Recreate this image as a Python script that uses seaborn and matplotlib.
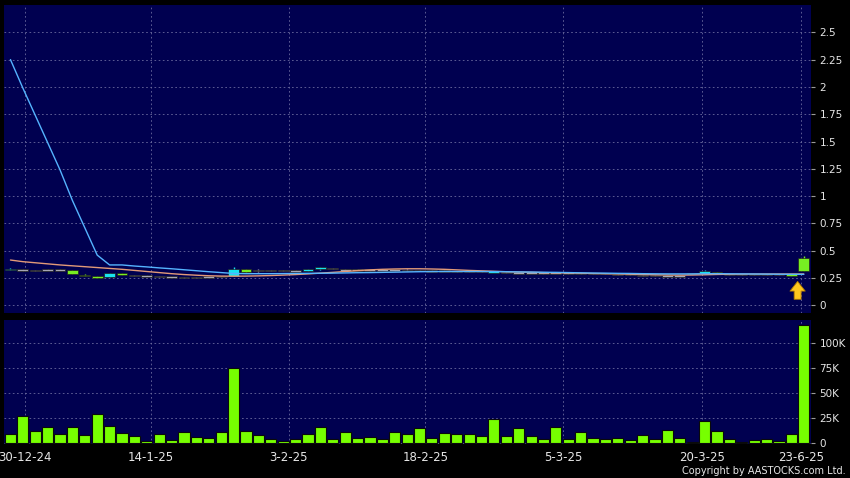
import matplotlib
matplotlib.use('Agg')
import matplotlib.pyplot as plt
import seaborn as sns
import numpy as np

# ---- data (65 trading days) ----
volume_k = [9.3, 27.3, 12.3, 16, 9, 16.7, 8, 29.7, 17, 10.3,
            7.7, 2.7, 9, 3, 11.3, 6.3, 5.7, 11, 75.3, 12.3,
            8, 4.7, 2, 4.3, 9, 16, 4.7, 11.3, 5, 6.3,
            4.7, 11.7, 9, 15.3, 5.7, 10.7, 9, 9, 7, 24,
            7.7, 15, 7.3, 4, 16.7, 4, 11.7, 5.7, 4.7, 5.3,
            3.7, 8, 4, 13.3, 5.7, 1.3, 22.7, 12.3, 4.7, 1.3,
            3.3, 4.3, 2.3, 9, 118.3]

opens = [0.335, 0.325, 0.32, 0.325, 0.325, 0.287, 0.275, 0.253, 0.295, 0.277,
         0.272, 0.27, 0.262, 0.26, 0.258, 0.258, 0.26, 0.262, 0.332, 0.302,
         0.317, 0.317, 0.32, 0.315, 0.332, 0.348, 0.338, 0.323, 0.325, 0.323,
         0.325, 0.323, 0.32, 0.318, 0.315, 0.315, 0.312, 0.312, 0.31, 0.31,
         0.298, 0.297, 0.296, 0.295, 0.296, 0.295, 0.294, 0.293, 0.292, 0.284,
         0.28, 0.275, 0.272, 0.27, 0.268, 0.29, 0.317, 0.287, 0.285, 0.283,
         0.282, 0.28, 0.28, 0.268, 0.31]
closes = [0.33, 0.325, 0.32, 0.325, 0.325, 0.32, 0.287, 0.271, 0.258, 0.293,
          0.272, 0.27, 0.262, 0.26, 0.258, 0.258, 0.26, 0.262, 0.268, 0.332,
          0.317, 0.317, 0.32, 0.315, 0.314, 0.33, 0.338, 0.323, 0.325, 0.323,
          0.325, 0.323, 0.32, 0.318, 0.315, 0.315, 0.312, 0.312, 0.31, 0.305,
          0.298, 0.297, 0.296, 0.295, 0.296, 0.295, 0.294, 0.293, 0.292, 0.284,
          0.28, 0.275, 0.272, 0.27, 0.268, 0.29, 0.30, 0.305, 0.285, 0.283,
          0.282, 0.28, 0.28, 0.287, 0.43]
highs = [0.34, 0.335, 0.325, 0.335, 0.33, 0.322, 0.29, 0.273, 0.297, 0.295,
         0.276, 0.274, 0.266, 0.264, 0.262, 0.262, 0.264, 0.266, 0.355, 0.334,
         0.33, 0.325, 0.326, 0.32, 0.336, 0.352, 0.342, 0.33, 0.33, 0.328,
         0.33, 0.328, 0.33, 0.322, 0.32, 0.32, 0.316, 0.316, 0.314, 0.318,
         0.302, 0.3, 0.3, 0.3, 0.3, 0.298, 0.298, 0.297, 0.296, 0.288,
         0.284, 0.278, 0.276, 0.274, 0.272, 0.294, 0.322, 0.308, 0.288, 0.287,
         0.286, 0.284, 0.284, 0.29, 0.45]
lows = [0.325, 0.315, 0.315, 0.32, 0.32, 0.285, 0.27, 0.248, 0.256, 0.275,
        0.268, 0.265, 0.258, 0.256, 0.255, 0.255, 0.256, 0.258, 0.266, 0.30,
        0.305, 0.31, 0.315, 0.31, 0.312, 0.328, 0.334, 0.318, 0.32, 0.318,
        0.32, 0.318, 0.31, 0.314, 0.31, 0.31, 0.308, 0.308, 0.306, 0.303,
        0.294, 0.293, 0.292, 0.291, 0.292, 0.291, 0.29, 0.289, 0.288, 0.28,
        0.276, 0.272, 0.268, 0.266, 0.264, 0.286, 0.298, 0.285, 0.282, 0.28,
        0.278, 0.276, 0.276, 0.266, 0.31]

ma_fast = [2.25, 1.99, 1.74, 1.49, 1.24, 0.96, 0.71, 0.46, 0.37, 0.37,
           0.36, 0.352, 0.343, 0.335, 0.326, 0.317, 0.308, 0.30, 0.292, 0.29,
           0.29, 0.29, 0.291, 0.292, 0.293, 0.294, 0.295, 0.297, 0.299, 0.30,
           0.302, 0.304, 0.306, 0.308, 0.309, 0.31, 0.31, 0.31, 0.31, 0.309,
           0.308, 0.306, 0.305, 0.303, 0.302, 0.30, 0.298, 0.296, 0.295, 0.293,
           0.292, 0.29, 0.289, 0.288, 0.288, 0.288, 0.29, 0.29, 0.289, 0.288,
           0.287, 0.286, 0.285, 0.284, 0.284]
ma_slow = [0.415, 0.40, 0.39, 0.38, 0.37, 0.362, 0.354, 0.346, 0.338, 0.33,
           0.32, 0.31, 0.30, 0.29, 0.282, 0.276, 0.271, 0.268, 0.267, 0.268,
           0.27, 0.273, 0.277, 0.282, 0.288, 0.295, 0.302, 0.31, 0.318, 0.325,
           0.33, 0.333, 0.335, 0.335, 0.333, 0.33, 0.325, 0.32, 0.316, 0.312,
           0.308, 0.305, 0.303, 0.30, 0.298, 0.296, 0.294, 0.292, 0.29, 0.288,
           0.285, 0.282, 0.28, 0.278, 0.277, 0.278, 0.28, 0.283, 0.285, 0.286,
           0.287, 0.287, 0.287, 0.287, 0.287]

date_labels = ['30-12-24', '14-1-25', '3-2-25', '18-2-25', '5-3-25', '20-3-25', '23-6-25']
date_pos = [1.19, 11.31, 22.44, 33.47, 44.6, 55.76, 63.75]
price_ticks = [0, 0.25, 0.5, 0.75, 1, 1.25, 1.5, 1.75, 2, 2.25, 2.5]
price_labels = ['0', '0.25', '0.5', '0.75', '1', '1.25', '1.5', '1.75', '2', '2.25', '2.5']
vol_ticks = [0, 25000, 50000, 75000, 100000]
vol_labels = ['0', '25K', '50K', '75K', '100K']

idx = np.arange(len(volume_k))
volume = np.array(volume_k) * 1000
opens, closes = np.array(opens), np.array(closes)

BG = '#000050'
GRID = '#6a6a9e'
TXT = '#e6e6e6'
UP = '#77ee22'
DOWN = '#19e3f0'
FLAT = '#a6a6b4'

sns.set_style('dark')
fig = plt.figure(figsize=(8.5, 4.78), dpi=100, facecolor='black')
ax_p = fig.add_axes([4 / 850, 1 - 313 / 478, 807 / 850, 308 / 478])
ax_v = fig.add_axes([4 / 850, 1 - 444 / 478, 807 / 850, 124 / 478])

for ax in (ax_p, ax_v):
    ax.set_facecolor(BG)
    for s in ax.spines.values():
        s.set_visible(False)

# ---- price panel ----
colors = [UP if c > o else DOWN if c < o else FLAT for o, c in zip(opens, closes)]
ax_p.vlines(idx, lows, highs, colors=colors, lw=1, zorder=2)
body_h = np.maximum(np.abs(closes - opens), 0.012)
ax_p.bar(idx, body_h, bottom=np.minimum(opens, closes) - 0.006 * (np.abs(closes - opens) < 0.012),
         width=0.88, color=colors, edgecolor='#202020', linewidth=0.5, zorder=3)
sns.lineplot(x=idx, y=ma_slow, ax=ax_p, color='#e29a78', lw=1, zorder=4)
sns.lineplot(x=idx, y=ma_fast, ax=ax_p, color='#55b4ff', lw=1, zorder=4)

ax_p.annotate('', xy=(63.5, 0.245), xytext=(63.5, 0.03),
              arrowprops=dict(arrowstyle='simple,head_width=1.1,head_length=0.7,tail_width=0.5',
                              fc='#ffc81e', ec='#b07800', lw=0.6, mutation_scale=10), zorder=5)

ax_p.set_xlim(-0.52, 64.58)
ax_p.set_ylim(-0.07, 2.75)
ax_p.set_xticks(date_pos)
ax_p.tick_params(axis='x', length=0, labelbottom=False)
ax_p.yaxis.tick_right()
ax_p.set_yticks(price_ticks, price_labels)
ax_p.tick_params(axis='y', length=3, width=0.8, color='#9a9a9a', labelcolor=TXT,
                 labelsize=7.5, pad=3)
ax_p.grid(True, color=GRID, linestyle=(0, (2, 3)), linewidth=0.6)
ax_p.set_axisbelow(True)
ax_p.set_xlabel('')
ax_p.set_ylabel('')

# ---- volume panel ----
sns.barplot(x=idx, y=volume, ax=ax_v, native_scale=True, color='#77ff00', saturation=1,
            width=0.9, edgecolor='#0a0a0a', linewidth=0.8, errorbar=None, zorder=3)
ax_v.set_xlim(-0.52, 64.58)
ax_v.set_ylim(-700, 123300)
ax_v.set_xticks(date_pos, date_labels)
ax_v.tick_params(axis='x', length=3, width=0.8, color='#9a9a9a', labelcolor=TXT,
                 labelsize=8.5, pad=2)
ax_v.yaxis.tick_right()
ax_v.set_yticks(vol_ticks, vol_labels)
ax_v.tick_params(axis='y', length=3, width=0.8, color='#9a9a9a', labelcolor=TXT,
                 labelsize=7.5, pad=3)
ax_v.grid(True, color=GRID, linestyle=(0, (2, 3)), linewidth=0.6)
ax_v.set_axisbelow(True)
ax_v.set_xlabel('')
ax_v.set_ylabel('')

fig.text(846 / 850, 1 - 471 / 478, 'Copyright by AASTOCKS.com Ltd.', ha='right', va='center',
         color=TXT, fontsize=7)

fig.savefig('out.png', dpi=100, facecolor='black')
